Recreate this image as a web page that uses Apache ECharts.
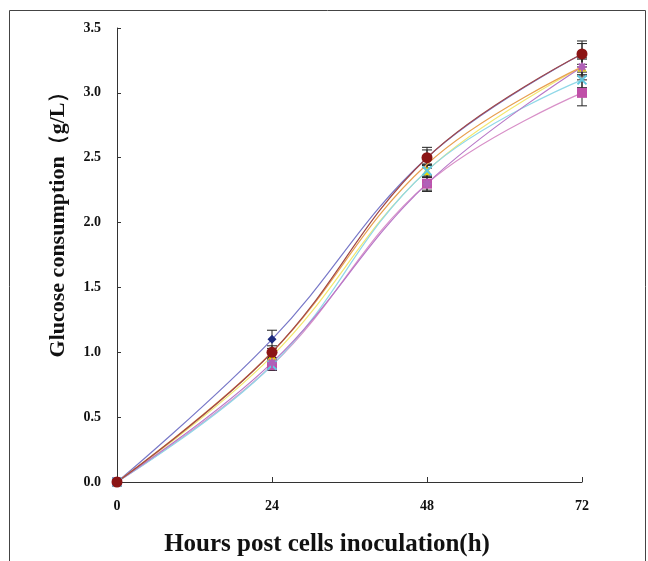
<!DOCTYPE html>
<html><head><meta charset="utf-8">
<script src="https://cdn.jsdelivr.net/npm/echarts@6/dist/echarts.min.js"></script>
<style>html,body{margin:0;padding:0;background:#fff}#c{width:648px;height:561px}</style>
</head><body><div id="c"></div>
<script>
var hours = [0, 24, 48, 72];
var yTicks = [0, 0.5, 1.0, 1.5, 2.0, 2.5, 3.0, 3.5];
var xTitle = 'Hours post cells inoculation(h)';
var yTitle = 'Glucose consumption（g/L）';
var sDiamond = [0, 1.1, 2.5, 3.3];
var sSquare = [0, 0.9, 2.3, 3.0];
var sTriangle = [0, 0.97, 2.4, 3.2];
var sCross = [0, 0.9, 2.4, 3.1];
var sStar = [0, 0.92, 2.3, 3.2];
var sCircle = [0, 1.0, 2.5, 3.3];
var sOrange = [0, 1.0, 2.45, 3.2];
var eDiamond = [0, 0.07, 0.06, 0.08];
var eSquare = [0, 0.04, 0.06, 0.1];
var eTriangle = [0, 0.04, 0.05, 0.06];
var eCross = [0, 0.04, 0.05, 0.06];
var eStar = [0, 0.04, 0.05, 0.07];
var eCircle = [0, 0.05, 0.08, 0.1];

var xPath = 'path://M0,0 L10,10 M10,0 L0,10';
var starPath = 'path://M5,0 L5,10 M0,5 L10,5 M1.5,1.5 L8.5,8.5 M8.5,1.5 L1.5,8.5';

var defs = [
  {name:'A', v:sDiamond, e:eDiamond, line:'#7878c8', mk:'#1c2a7e', sym:'diamond', size:9},
  {name:'B', v:sSquare, e:eSquare, line:'#d890c8', mk:'#c050a8', sym:'rect', size:10},
  {name:'C', v:sTriangle, e:eTriangle, line:'#f2e870', mk:'#e8d800', sym:'triangle', size:9},
  {name:'D', v:sCross, e:eCross, line:'#90d8e8', mk:'#60c8e0', sym:'cross', size:9},
  {name:'E', v:sStar, e:eStar, line:'#b878c8', mk:'#b060b8', sym:'star', size:9},
  {name:'G', v:sOrange, e:null, line:'#e8a050', mk:'#e8a050', sym:'none', size:0},
  {name:'F', v:sCircle, e:eCircle, line:'#a04848', mk:'#8b1414', sym:'circle', size:11}
];

var series = [];
defs.forEach(function(d){
  var pts = hours.map(function(h,i){return [h, d.v[i]];});
  if (d.e) {
    series.push({
      type:'custom', name:d.name+'err', silent:true, z:3,
      data: hours.map(function(h,i){return [h, d.v[i], d.e[i]];}).filter(function(p){return p[2]>0;}),
      renderItem: function(params, api){
        var x = api.value(0), y = api.value(1), e = api.value(2);
        var hi = api.coord([x, y+e]), lo = api.coord([x, y-e]);
        var w = 5;
        var st = {stroke:'#222', lineWidth:1};
        return {type:'group', children:[
          {type:'line', shape:{x1:hi[0],y1:hi[1],x2:lo[0],y2:lo[1]}, style:st},
          {type:'line', shape:{x1:hi[0]-w,y1:hi[1],x2:hi[0]+w,y2:hi[1]}, style:st},
          {type:'line', shape:{x1:lo[0]-w,y1:lo[1],x2:lo[0]+w,y2:lo[1]}, style:st}
        ]};
      }
    });
  }
  var sym = d.sym === 'cross' ? xPath : (d.sym === 'star' ? starPath : d.sym);
  series.push({
    type:'line', name:d.name, data:pts, smooth:0.4, z:4,
    lineStyle:{color:d.line, width:1.2},
    symbol: sym, symbolSize:d.size, showSymbol: d.sym !== 'none',
    itemStyle:{color:d.mk, borderColor:d.mk, borderWidth:(d.sym==='cross'||d.sym==='star')?2:0}
  });
});

var chart = echarts.init(document.getElementById('c'));
chart.setOption({
  animation:false,
  backgroundColor:'#fff',
  graphic:[
    {type:'rect', shape:{x:9.5,y:10.5,width:636,height:600}, style:{fill:'none', stroke:'#444', lineWidth:1}, z:0},
    {type:'text', x:327, y:545, style:{text:xTitle, fontFamily:'Liberation Serif', fontWeight:'bold', fontSize:25, fill:'#111', textAlign:'center', textVerticalAlign:'middle'}},
    {type:'text', x:58, y:219, rotation:Math.PI/2, style:{text:yTitle, fontFamily:'Liberation Serif', fontWeight:'bold', fontSize:22, fill:'#111', textAlign:'center', textVerticalAlign:'middle'}}
  ],
  grid:{left:117, right:66, top:28, bottom:79},
  xAxis:{type:'value', min:0, max:72, interval:24,
    axisLine:{lineStyle:{color:'#333'}}, axisTick:{inside:true, length:5, lineStyle:{color:'#333'}},
    axisLabel:{fontFamily:'Liberation Serif', fontWeight:'bold', fontSize:14, color:'#111', margin:17},
    splitLine:{show:false}},
  yAxis:{type:'value', min:0, max:3.5, interval:0.5,
    axisLine:{show:true, lineStyle:{color:'#333'}}, axisTick:{show:true, inside:true, length:4, lineStyle:{color:'#333'}},
    axisLabel:{fontFamily:'Liberation Serif', fontWeight:'bold', fontSize:14, color:'#111', margin:16,
      formatter:function(v){return v.toFixed(1);}},
    splitLine:{show:false}},
  series:series
});
</script></body></html>
